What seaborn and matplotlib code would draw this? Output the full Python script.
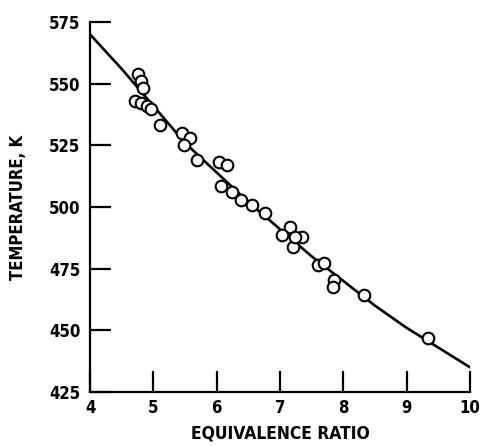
import matplotlib
matplotlib.use("Agg")
import matplotlib.pyplot as plt
import seaborn as sns
import pandas as pd

# Measured data points (equivalence ratio, temperature K)
ratio = [4.76, 4.80, 4.84, 4.71, 4.80, 4.90, 4.96, 5.10,
         5.45, 5.58, 5.48, 5.69, 6.03, 6.16, 6.07, 6.24, 6.38, 6.56, 6.76,
         7.15, 7.03, 7.34, 7.20, 7.23,
         7.60, 7.69, 7.86, 7.83, 8.32, 9.33]
temperature = [553.9, 551.1, 548.2, 543.0, 542.2, 541.0, 539.7, 533.2,
               530.0, 528.0, 525.1, 519.1, 518.3, 517.0, 508.5, 506.1, 502.8, 500.8, 497.6,
               491.9, 488.7, 488.0, 483.8, 488.0,
               476.5, 477.3, 470.4, 467.6, 464.3, 446.9]

# Fitted curve
fit_ratio = [4.0, 4.5, 5.0, 5.5, 6.0, 6.5, 7.0, 7.5, 8.0, 8.5, 9.0, 9.5, 10.0]
fit_temperature = [570, 556, 541, 526, 514, 502, 491, 480, 470, 460, 451, 443, 435]

x_ticks = [4, 5, 6, 7, 8, 9, 10]
y_ticks = [425, 450, 475, 500, 525, 550, 575]

sns.set_theme(style="ticks")
plt.rcParams['font.family'] = ['DejaVu Sans']
plt.rcParams['font.stretch'] = 'condensed'

fig = plt.figure(figsize=(4.82, 4.46), dpi=100)
ax = fig.add_axes([90/482, 1-392/446, 380/482, 370/446])

pts = pd.DataFrame({"ratio": ratio, "temperature": temperature})
fit = pd.DataFrame({"ratio": fit_ratio, "temperature": fit_temperature})

sns.lineplot(data=fit, x="ratio", y="temperature", ax=ax, color="black",
             linewidth=1.9, zorder=2)
sns.scatterplot(data=pts, x="ratio", y="temperature", ax=ax, s=70,
                facecolor="white", edgecolor="black", linewidth=1.5,
                zorder=3, clip_on=False)

ax.set_xlim(4, 10)
ax.set_ylim(425, 575)
ax.set_xticks(x_ticks)
ax.set_yticks(y_ticks)
ax.set_xticklabels([str(t) for t in x_ticks])
ax.set_yticklabels([str(t) for t in y_ticks])

for side in ["top", "right"]:
    ax.spines[side].set_visible(False)
for side in ["left", "bottom"]:
    ax.spines[side].set_linewidth(1.6)
    ax.spines[side].set_color("black")

ax.tick_params(axis="both", direction="in", length=15, width=1.6,
               colors="black", labelsize=12)
ax.tick_params(axis="y", pad=7)
ax.tick_params(axis="x", pad=5)
for lab in ax.get_xticklabels() + ax.get_yticklabels():
    lab.set_fontweight("bold")
    lab.set_fontstretch("condensed")

ax.set_xlabel("EQUIVALENCE RATIO", fontsize=12.5, fontweight="bold",
              color="black", fontstretch="condensed")
ax.set_ylabel("TEMPERATURE, K", fontsize=12, fontweight="bold",
              color="black", fontstretch="condensed")
ax.xaxis.set_label_coords(0.5, -0.088)
ax.yaxis.set_label_coords(-0.165, 0.5)

fig.savefig("out.png", dpi=100)
